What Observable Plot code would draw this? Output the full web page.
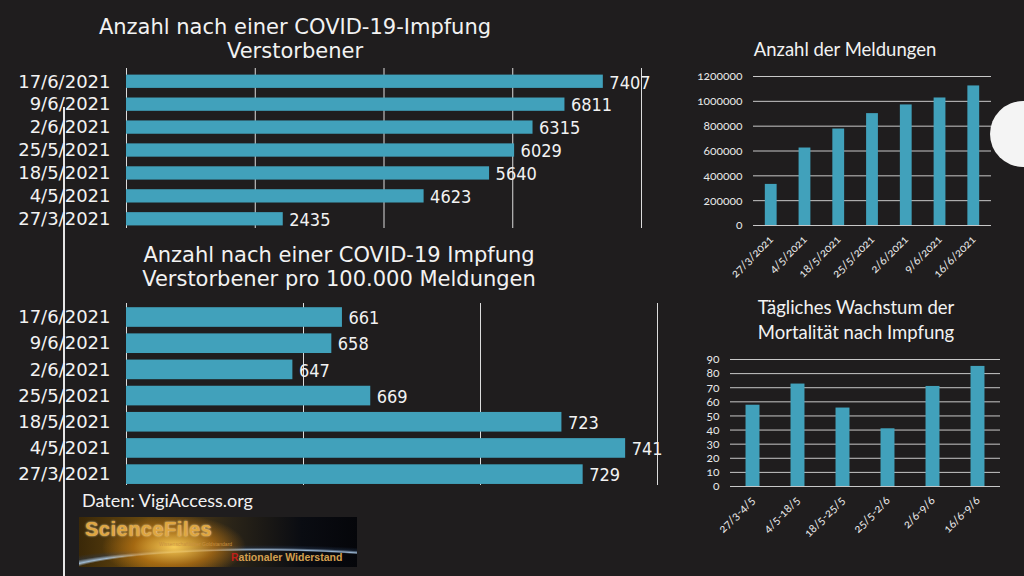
<!DOCTYPE html>
<html>
<head>
<meta charset="utf-8">
<script src="https://cdn.jsdelivr.net/npm/d3@7"></script>
<script src="https://cdn.jsdelivr.net/npm/@observablehq/plot@0.6"></script>
<style>
  html, body { margin: 0; padding: 0; background: #1f1d1e; }
  #page { position: relative; width: 1024px; height: 576px; overflow: hidden; background: #1f1d1e; color: #f2f2f2; }
  .abs { position: absolute; }
  .ttlL { font-family: "DejaVu Sans", sans-serif; font-size: 21px; line-height: 23.5px; text-align: center; color: #f2f2f2; white-space: nowrap; }
  .ttlR { font-family: Lato, "Open Sans", sans-serif; font-size: 18.5px; line-height: 25px; text-align: center; color: #f2f2f2; white-space: nowrap; }
  #vline { left: 63px; top: 107px; width: 2px; height: 469px; background: #e6e6e6; }
  #circle { left: 990px; top: 101px; width: 66px; height: 66px; border-radius: 50%; background: #f4f4f4; }
  #logo { left: 79px; top: 517px; width: 278px; height: 50px; overflow: hidden;
    background:
      radial-gradient(ellipse 90px 40px at 95px 30px, rgba(255,210,90,0.95), rgba(210,130,20,0.6) 45%, rgba(0,0,0,0) 80%),
      radial-gradient(ellipse 320px 40px at 180px 58px, rgba(0,0,0,0) 60%, rgba(170,200,230,0.9) 63%, rgba(40,60,90,0.4) 68%, rgba(0,0,0,0) 75%),
      linear-gradient(90deg, #3a2808 0%, #6a4a10 25%, #2a2418 55%, #0a0c12 80%, #05060a 100%); }
  #logo .t1 { position: absolute; left: 6px; top: 1px; font-family: "Liberation Sans", Arial, sans-serif; font-weight: bold; font-size: 20px; color: #e0a640; letter-spacing: 0.5px; text-shadow: 0 0 2px #fff3c0; }
  #logo .t2 { position: absolute; left: 80px; top: 24px; font-family: "Liberation Sans", Arial, sans-serif; font-size: 5px; color: #c89040; }
  #logo .t3 { position: absolute; left: 152px; top: 34px; font-family: "Liberation Sans", Arial, sans-serif; font-weight: bold; font-size: 10.5px; color: #d4a050; }
  #logo .t3 b { color: #c0201a; }
  #caption { left: 82px; top: 490px; font-family: Lato, "Open Sans", sans-serif; font-size: 18px; line-height: 20px; color: #f2f2f2; }
  .onum svg { overflow: visible; }
  .onum text { font-feature-settings: "onum" 1; font-variant-numeric: oldstyle-nums; }
</style>
</head>
<body>
<div id="page">
  <div class="abs" id="vline"></div>
  <div class="abs" id="circle"></div>
  <div class="abs ttlL" style="left:95px; top:16px; width:400px;">Anzahl nach einer COVID-19-Impfung<br>Verstorbener</div>
  <div class="abs ttlL" style="left:139px; top:242.5px; width:400px; line-height:24px;">Anzahl nach einer COVID-19 Impfung<br>Verstorbener pro 100.000 Meldungen</div>
  <div class="abs ttlR" style="left:695px; top:37px; width:300px;">Anzahl der Meldungen</div>
  <div class="abs ttlR" style="left:706px; top:295px; width:300px;">Tägliches Wachstum der<br>Mortalität nach Impfung</div>
  <div class="abs" id="chart1" style="left:0px; top:62px;"></div>
  <div class="abs" id="chart2" style="left:0px; top:298px;"></div>
  <div class="abs onum" id="chart3" style="left:690px; top:60px;"></div>
  <div class="abs onum" id="chart4" style="left:690px; top:345px;"></div>
  <div class="abs" id="caption">Daten: VigiAccess.org</div>
  <div class="abs" id="logo"><span class="t1">ScienceFiles</span><span class="t2">Wissenschaftlicher Goldstandard</span><span class="t3"><b>R</b>ationaler Widerstand</span></div>
</div>
<script>
// ---- data ----
const dates = ["17/6/2021", "9/6/2021", "2/6/2021", "25/5/2021", "18/5/2021", "4/5/2021", "27/3/2021"];
const deaths = [7407, 6811, 6315, 6029, 5640, 4623, 2435];
const deathsPer100k = [661, 658, 647, 669, 723, 741, 729];
const deathTicks = [0, 2000, 4000, 6000, 8000];
const rateTicks = [600, 650, 700, 750];

const reportDates = ["27/3/2021", "4/5/2021", "18/5/2021", "25/5/2021", "2/6/2021", "9/6/2021", "16/6/2021"];
const reports = [331000, 624000, 777000, 901000, 971000, 1027000, 1124000];
const reportTicks = [0, 200000, 400000, 600000, 800000, 1000000, 1200000];

const periods = ["27/3-4/5", "4/5-18/5", "18/5-25/5", "25/5-2/6", "2/6-9/6", "16/6-9/6"];
const dailyGrowth = [57.6, 72.6, 55.6, 40.9, 70.9, 85.1];
const growthTicks = [0, 10, 20, 30, 40, 50, 60, 70, 80, 90];

// ---- styles ----
const barColor = "#41a1bb";
const textColor = "#f2f2f2";
const labelFont = "'DejaVu Sans', sans-serif";
const valueFont = "'DejaVu Sans Condensed', 'DejaVu Sans', sans-serif";
const rightFont = "Lato, 'Noto Sans', sans-serif";

const t1 = dates.map((d, i) => ({d, v: deaths[i]}));
const t2 = dates.map((d, i) => ({d, v: deathsPer100k[i]}));
const t3 = reportDates.map((d, i) => ({d, v: reports[i]}));
const t4 = periods.map((d, i) => ({d, v: dailyGrowth[i]}));

function leftChart(data, domain, ticks, opts) {
  return Plot.plot({
    width: opts.width, height: opts.height,
    marginLeft: 126, marginRight: opts.width - opts.right,
    marginTop: opts.mt, marginBottom: opts.mb,
    style: {background: "transparent", color: textColor, fontFamily: labelFont, fontSize: "18px"},
    x: {domain, axis: null, label: null},
    y: {domain: dates, paddingInner: opts.pi, paddingOuter: opts.po, align: opts.align, round: false, axis: null, label: null},
    marks: [
      Plot.gridX(ticks, {stroke: "#dcdcdc", strokeOpacity: 1, strokeWidth: 1}),
      Plot.barX(data, {x: "v", y: "d", fill: barColor, clip: true}),
      Plot.text(data, {x: "v", y: "d", text: d => String(d.v), textAnchor: "start", dx: 6, dy: 1, fill: textColor, fontSize: 18, fontFamily: valueFont, fontStretch: "condensed"}),
      Plot.axisY({tickSize: 0, tickPadding: 16, fontSize: 18, fontFamily: labelFont, fill: textColor, label: null})
    ]
  });
}

document.getElementById("chart1").append(leftChart(t1, [0, 8000], deathTicks,
  {width: 680, height: 172, right: 641, mt: 6, mb: 6, pi: 0.42, po: 0.2, align: 0.72}));
document.getElementById("chart2").append(leftChart(t2, [600, 750], rateTicks,
  {width: 700, height: 192, right: 657, mt: 5, mb: 5, pi: 0.25, po: 0.1, align: 0.8}));

function rightChart(data, domain, yDomain, yTicks, opts) {
  return Plot.plot({
    width: 334, height: opts.height,
    marginLeft: opts.ml, marginRight: opts.mr, marginTop: opts.mt, marginBottom: opts.mb,
    style: {background: "transparent", color: textColor, fontFamily: rightFont, fontSize: "11px", overflow: "visible"},
    x: {domain, paddingInner: opts.pi, paddingOuter: opts.po, round: false, axis: null, label: null},
    y: {domain: yDomain, axis: null, label: null},
    marks: [
      Plot.gridY(yTicks, {stroke: "#c8c8c8", strokeOpacity: 1, strokeWidth: 1}),
      Plot.barY(data, {x: "d", y: "v", fill: barColor}),
      Plot.axisY(yTicks, {tickSize: 0, tickPadding: 11, fontSize: 12, fill: "#e8e8e8", tickFormat: d3.format("d"), label: null}),
      Plot.axisX({tickSize: 0, tickPadding: 12, tickRotate: -45, fontSize: 11.5, fill: "#e8e8e8", label: null})
    ]
  });
}

document.getElementById("chart3").append(rightChart(t3, reportDates, [0, 1200000], reportTicks,
  {height: 245, ml: 63, mr: 33, mt: 16, mb: 80, pi: 0.65, po: 0.35}));
document.getElementById("chart4").append(rightChart(t4, periods, [0, 90], growthTicks,
  {height: 231, ml: 40, mr: 24, mt: 14, mb: 90, pi: 0.69, po: 0.345}));
</script>
</body>
</html>
